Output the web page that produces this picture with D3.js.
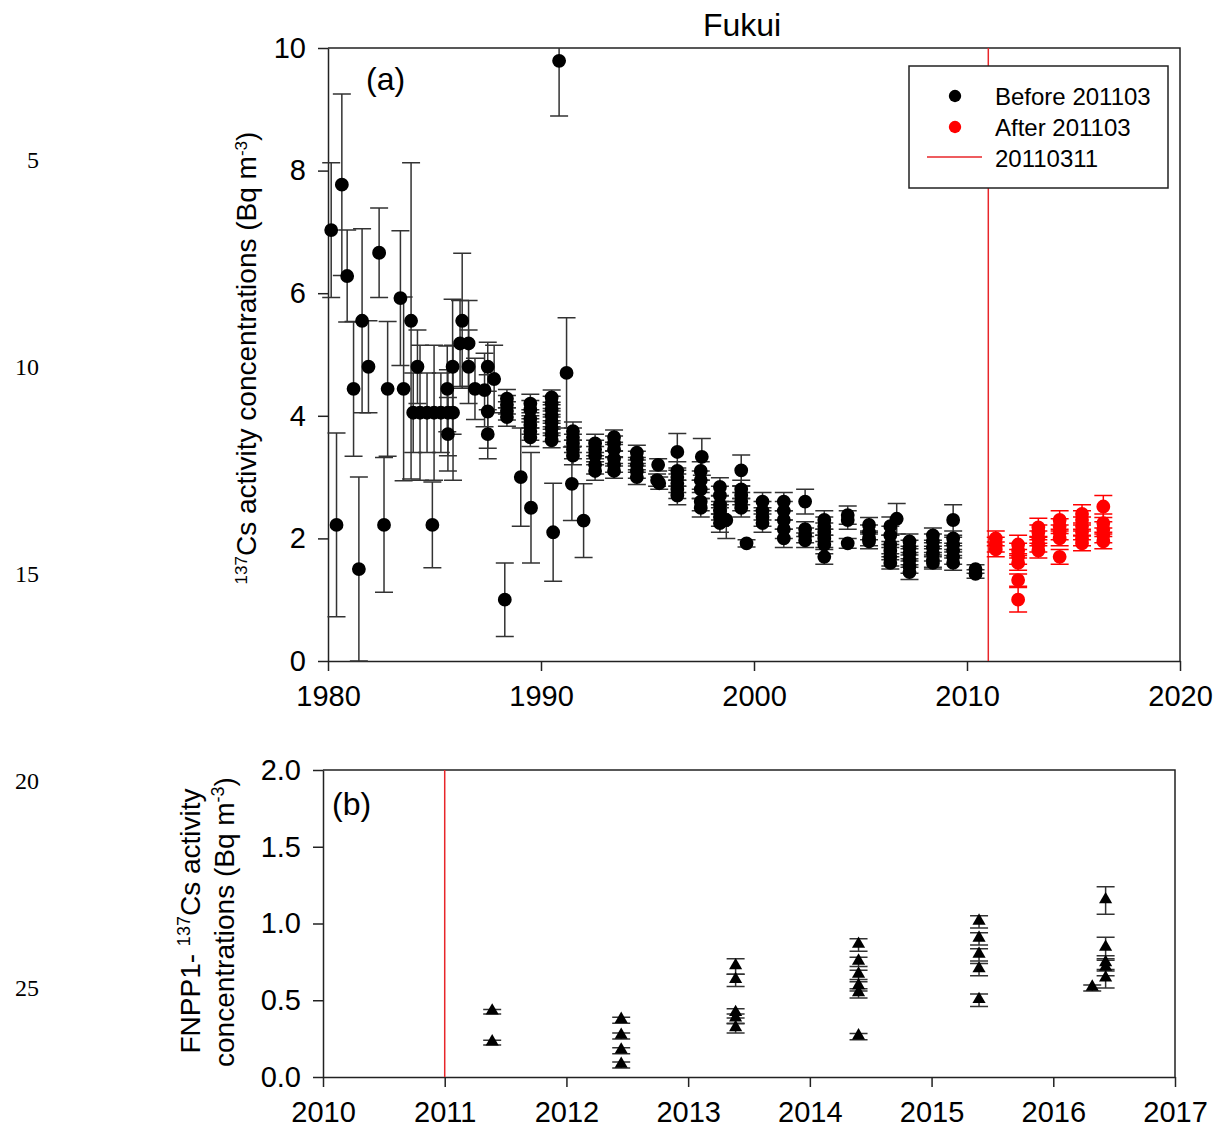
<!DOCTYPE html>
<html>
<head>
<meta charset="utf-8">
<script src="https://cdn.jsdelivr.net/npm/d3@7"></script>
<style>
  body { margin: 0; background: #fff; }
  text { font-family: Arial, "Liberation Sans", sans-serif; fill: #000; }
</style>
</head>
<body>
<svg id="chart" width="1214" height="1130"></svg>
<script>
// [year, value, error]  -- Fukui, before the accident
var before = [
    [1980.15, 7.03, 1.1], [1980.4, 2.22, 1.5], [1980.65, 7.77, 1.48], [1980.9, 6.28, 0.75],
    [1981.2, 4.44, 1.1], [1981.45, 1.5, 1.5], [1981.6, 5.55, 1.5], [1981.9, 4.8, 0.75],
    [1982.4, 6.66, 0.73], [1982.63, 2.22, 1.1], [1982.8, 4.44, 1.1],
    [1983.4, 5.92, 1.1], [1983.55, 4.44, 1.5], [1983.9, 5.55, 2.58],
    [1984.0, 4.05, 0.65], [1984.2, 4.8, 0.6], [1984.32, 4.05, 1.1], [1984.65, 4.05, 0.65],
    [1984.9, 2.22, 0.7], [1984.98, 4.05, 1.1], [1985.3, 4.05, 0.65], [1985.6, 4.44, 0.7],
    [1985.63, 3.7, 0.6], [1985.63, 4.05, 0.7], [1985.87, 4.05, 1.1], [1985.85, 4.8, 1.1],
    [1986.2, 5.18, 0.7], [1986.3, 5.55, 1.1], [1986.6, 5.18, 0.7], [1986.6, 4.8, 0.6],
    [1986.9, 4.44, 0.5], [1987.35, 4.42, 0.6], [1987.5, 4.8, 0.4], [1987.5, 4.07, 0.6],
    [1987.5, 3.7, 0.4], [1987.8, 4.6, 0.55],
    [1988.3, 1.0, 0.6], [1988.4, 4.28, 0.15], [1988.4, 4.18, 0.15], [1988.4, 4.08, 0.15], [1988.4, 3.98, 0.15],
    [1989.05, 3.0, 0.8], [1989.5, 4.2, 0.15], [1989.5, 4.1, 0.15], [1989.5, 3.95, 0.15],
    [1989.5, 3.85, 0.15], [1989.5, 3.75, 0.15], [1989.5, 3.65, 0.15], [1989.53, 2.5, 0.9],
    [1990.5, 4.3, 0.12], [1990.5, 4.2, 0.12], [1990.5, 4.1, 0.12], [1990.5, 4.0, 0.12],
    [1990.5, 3.9, 0.12], [1990.5, 3.8, 0.12], [1990.5, 3.7, 0.12], [1990.5, 3.6, 0.12],
    [1990.57, 2.1, 0.8], [1990.85, 9.79, 0.9], [1991.2, 4.7, 0.9],
    [1991.5, 3.75, 0.15], [1991.5, 3.65, 0.15], [1991.5, 3.55, 0.15], [1991.5, 3.45, 0.15],
    [1991.5, 3.35, 0.15], [1991.45, 2.89, 0.6], [1992.0, 2.29, 0.6],
    [1992.54, 3.55, 0.15], [1992.54, 3.45, 0.15], [1992.54, 3.35, 0.15], [1992.54, 3.2, 0.15], [1992.54, 3.1, 0.15],
    [1993.43, 3.65, 0.12], [1993.43, 3.55, 0.12], [1993.43, 3.45, 0.12], [1993.43, 3.3, 0.12],
    [1993.43, 3.2, 0.12], [1993.43, 3.1, 0.12],
    [1994.5, 3.4, 0.12], [1994.5, 3.3, 0.12], [1994.5, 3.2, 0.12], [1994.5, 3.1, 0.12], [1994.5, 3.0, 0.12],
    [1995.5, 3.2, 0.1], [1995.45, 2.95, 0.1], [1995.55, 2.9, 0.1],
    [1996.4, 3.41, 0.3], [1996.4, 3.1, 0.15], [1996.4, 3.0, 0.15], [1996.4, 2.9, 0.15],
    [1996.4, 2.8, 0.15], [1996.4, 2.7, 0.15],
    [1997.55, 3.33, 0.3], [1997.5, 3.1, 0.15], [1997.5, 2.95, 0.15], [1997.5, 2.8, 0.15],
    [1997.5, 2.6, 0.15], [1997.5, 2.5, 0.15],
    [1998.4, 2.84, 0.15], [1998.4, 2.7, 0.15], [1998.4, 2.55, 0.15], [1998.4, 2.45, 0.15],
    [1998.4, 2.35, 0.15], [1998.4, 2.25, 0.15], [1998.7, 2.3, 0.3],
    [1999.4, 3.11, 0.25], [1999.4, 2.8, 0.15], [1999.4, 2.7, 0.15], [1999.4, 2.6, 0.15],
    [1999.4, 2.5, 0.15], [1999.65, 1.92, 0.06],
    [2000.4, 2.6, 0.15], [2000.4, 2.45, 0.15], [2000.4, 2.35, 0.15], [2000.4, 2.25, 0.15],
    [2001.4, 2.6, 0.15], [2001.4, 2.45, 0.15], [2001.4, 2.3, 0.15], [2001.4, 2.15, 0.15], [2001.4, 2.0, 0.15],
    [2002.4, 2.6, 0.2], [2002.4, 2.15, 0.12], [2002.4, 2.05, 0.12], [2002.4, 1.97, 0.12],
    [2003.3, 2.3, 0.15], [2003.3, 2.2, 0.15], [2003.3, 2.1, 0.15], [2003.3, 2.0, 0.15],
    [2003.3, 1.9, 0.15], [2003.3, 1.7, 0.12],
    [2004.4, 2.38, 0.15], [2004.4, 2.3, 0.15], [2004.4, 1.92, 0.08],
    [2005.4, 2.22, 0.12], [2005.4, 2.1, 0.12], [2005.4, 2.0, 0.12], [2005.4, 1.95, 0.12],
    [2006.4, 2.2, 0.15], [2006.4, 2.05, 0.15], [2006.4, 1.9, 0.15], [2006.4, 1.8, 0.15],
    [2006.4, 1.7, 0.15], [2006.4, 1.6, 0.1], [2006.7, 2.32, 0.25],
    [2007.3, 1.95, 0.12], [2007.3, 1.85, 0.12], [2007.3, 1.75, 0.12], [2007.3, 1.65, 0.12],
    [2007.3, 1.55, 0.12], [2007.3, 1.45, 0.12],
    [2008.4, 2.05, 0.12], [2008.4, 1.95, 0.12], [2008.4, 1.85, 0.12], [2008.4, 1.75, 0.12],
    [2008.4, 1.65, 0.12], [2008.4, 1.6, 0.1],
    [2009.35, 2.3, 0.25], [2009.35, 2.0, 0.12], [2009.35, 1.9, 0.12], [2009.35, 1.8, 0.12],
    [2009.35, 1.7, 0.12], [2009.35, 1.6, 0.12],
    [2010.4, 1.5, 0.07], [2010.4, 1.42, 0.07]
];

// [year, value, error]  -- Fukui, after the accident
var after = [
    [2011.35, 2.0, 0.12], [2011.35, 1.9, 0.12], [2011.35, 1.82, 0.12],
    [2012.4, 1.9, 0.15], [2012.4, 1.8, 0.12], [2012.4, 1.7, 0.12], [2012.4, 1.6, 0.12],
    [2012.4, 1.32, 0.1], [2012.4, 1.0, 0.2],
    [2013.35, 2.18, 0.15], [2013.35, 2.1, 0.12], [2013.35, 2.0, 0.12], [2013.35, 1.9, 0.12], [2013.35, 1.8, 0.12],
    [2014.35, 2.3, 0.15], [2014.35, 2.2, 0.12], [2014.35, 2.1, 0.12], [2014.35, 2.0, 0.12], [2014.35, 1.7, 0.12],
    [2015.4, 2.4, 0.15], [2015.4, 2.3, 0.15], [2015.4, 2.2, 0.15], [2015.4, 2.1, 0.12],
    [2015.4, 2.0, 0.12], [2015.4, 1.92, 0.12],
    [2016.4, 2.52, 0.18], [2016.4, 2.25, 0.15], [2016.4, 2.15, 0.12], [2016.4, 2.05, 0.12], [2016.4, 1.95, 0.12]
];

// [year, value, error]  -- FNPP1-derived 137Cs
var fnpp = [
    [2011.39, 0.425, 0.015], [2011.39, 0.224, 0.015],
    [2012.45, 0.37, 0.02], [2012.45, 0.267, 0.02], [2012.45, 0.171, 0.02], [2012.45, 0.078, 0.02],
    [2013.39, 0.72, 0.05], [2013.39, 0.63, 0.04], [2013.39, 0.415, 0.03], [2013.39, 0.38, 0.03], [2013.39, 0.317, 0.03],
    [2014.4, 0.86, 0.04], [2014.4, 0.75, 0.03], [2014.4, 0.665, 0.03], [2014.4, 0.59, 0.03],
    [2014.4, 0.545, 0.03], [2014.4, 0.263, 0.02],
    [2015.39, 1.01, 0.04], [2015.39, 0.9, 0.04], [2015.39, 0.795, 0.04], [2015.39, 0.7, 0.04], [2015.39, 0.5, 0.04],
    [2016.32, 0.58, 0.02],
    [2016.43, 1.15, 0.09], [2016.43, 0.84, 0.07], [2016.43, 0.74, 0.05], [2016.43, 0.71, 0.05], [2016.43, 0.64, 0.06]
];

var accidentYear = 2011;
var yearTicksA = [1980, 1990, 2000, 2010, 2020];
var valueTicksA = [0, 2, 4, 6, 8, 10];
var yearTicksB = [2010, 2011, 2012, 2013, 2014, 2015, 2016, 2017];
var valueTicksB = [0, 0.5, 1.0, 1.5, 2.0];
var legendLabels = ["Before 201103", "After 201103", "20110311"];
var lineNumbers = [5, 10, 15, 20, 25];

var svg = d3.select("#chart");
svg.append("rect").attr("width", 1214).attr("height", 1130).attr("fill", "#fff");

var axisColor = "#222";

// manuscript line numbers on the left
svg.selectAll(".lineno")
    .data(lineNumbers)
    .enter()
    .append("text")
    .attr("x", 39)
    .attr("y", function(d, i) { return 168 + i * 207; })
    .attr("text-anchor", "end")
    .style("font-family", "'Times New Roman', 'Liberation Serif', serif")
    .style("font-size", "24px")
    .text(function(d) { return d; });

function styleAxis(g) {
    g.select(".domain").attr("stroke", axisColor).attr("stroke-width", 1.5);
    g.selectAll(".tick line").attr("stroke", axisColor).attr("stroke-width", 1.5);
    g.selectAll(".tick text").style("font-size", "29px").attr("fill", "#000");
}

function drawErrorBars(g, data, x, y, color, cap) {
    var bars = g.append("g").attr("stroke", color).attr("stroke-width", 1.5);
    bars.selectAll(".eb")
        .data(data)
        .enter()
        .append("path")
        .attr("fill", "none")
        .attr("d", function(d) {
            var cx = x(d[0]), t = y(d[1] + d[2]), b = y(Math.max(d[1] - d[2], y.domain()[0]));
            var p = "M" + cx + "," + t + "V" + b;
            p += "M" + (cx - cap) + "," + t + "H" + (cx + cap);
            if (d[1] - d[2] >= y.domain()[0]) p += "M" + (cx - cap) + "," + b + "H" + (cx + cap);
            return p;
        });
    return bars;
}

/* ============= Panel (a) ============= */
var a = { left: 328, right: 1180, top: 48, bottom: 661 };
var xA = d3.scaleLinear().domain([1980, 2020]).range([a.left, a.right]);
var yA = d3.scaleLinear().domain([0, 10]).range([a.bottom, a.top]);

svg.append("clipPath").attr("id", "clipA")
    .append("rect").attr("x", 300).attr("y", a.top).attr("width", 900).attr("height", a.bottom - a.top + 2);

var gA = svg.append("g");

gA.append("text")
    .attr("x", 742).attr("y", 36)
    .attr("text-anchor", "middle")
    .style("font-size", "32px")
    .text("Fukui");

// frame
gA.append("path")
    .attr("d", "M" + a.left + "," + a.top + "H" + a.right + "V" + a.bottom)
    .attr("fill", "none").attr("stroke", axisColor).attr("stroke-width", 1.5);

gA.append("g")
    .attr("transform", "translate(0," + a.bottom + ")")
    .call(d3.axisBottom(xA).tickValues(yearTicksA).tickSize(10).tickSizeOuter(0).tickPadding(14).tickFormat(d3.format("d")))
    .call(styleAxis);

gA.append("g")
    .attr("transform", "translate(" + a.left + ",0)")
    .call(d3.axisLeft(yA).tickValues(valueTicksA).tickSize(10).tickSizeOuter(0).tickPadding(12).tickFormat(d3.format("d")))
    .call(styleAxis);

var labelA = gA.append("text")
    .attr("transform", "translate(256,358) rotate(-90)")
    .attr("text-anchor", "middle")
    .style("font-size", "28px");
labelA.append("tspan").attr("baseline-shift", "super").style("font-size", "17px").text("137");
labelA.append("tspan").text("Cs activity concentrations (Bq m");
labelA.append("tspan").attr("baseline-shift", "super").style("font-size", "17px").text("-3");
labelA.append("tspan").text(")");

gA.append("text").attr("x", 366).attr("y", 90).style("font-size", "32px").text("(a)");

// accident line
gA.append("line")
    .attr("x1", xA(accidentYear)).attr("x2", xA(accidentYear))
    .attr("y1", a.top).attr("y2", a.bottom)
    .attr("stroke", "#e8262a").attr("stroke-width", 1.5);

drawErrorBars(gA, before, xA, yA, "#333", 9).attr("clip-path", "url(#clipA)");
drawErrorBars(gA, after, xA, yA, "#ff0000", 9).attr("clip-path", "url(#clipA)");

var circle = d3.symbol().type(d3.symbolCircle).size(150);
gA.selectAll(".pb")
    .data(before)
    .enter()
    .append("path")
    .attr("transform", function(d) { return "translate(" + xA(d[0]) + "," + yA(d[1]) + ")"; })
    .attr("d", circle)
    .attr("fill", "#000");

gA.selectAll(".pa")
    .data(after)
    .enter()
    .append("path")
    .attr("transform", function(d) { return "translate(" + xA(d[0]) + "," + yA(d[1]) + ")"; })
    .attr("d", circle)
    .attr("fill", "#ff0000");

// legend
var lg = gA.append("g");
lg.append("rect")
    .attr("x", 909).attr("y", 66).attr("width", 259).attr("height", 122)
    .attr("fill", "#fff").attr("stroke", axisColor).attr("stroke-width", 1.5);
lg.append("path").attr("transform", "translate(955,96)").attr("d", d3.symbol().type(d3.symbolCircle).size(120)).attr("fill", "#000");
lg.append("path").attr("transform", "translate(955,127)").attr("d", d3.symbol().type(d3.symbolCircle).size(120)).attr("fill", "#ff0000");
lg.append("line").attr("x1", 927).attr("x2", 982).attr("y1", 157).attr("y2", 157).attr("stroke", "#e8262a").attr("stroke-width", 1.5);
lg.selectAll(".lt")
    .data(legendLabels)
    .enter()
    .append("text")
    .attr("x", 995)
    .attr("y", function(d, i) { return 105 + i * 31; })
    .style("font-size", "24px")
    .text(function(d) { return d; });

/* ============= Panel (b) ============= */
var b = { left: 323, right: 1175, top: 770, bottom: 1077 };
var xB = d3.scaleLinear().domain([2010, 2017]).range([b.left, b.right]);
var yB = d3.scaleLinear().domain([0, 2]).range([b.bottom, b.top]);

var gB = svg.append("g");

gB.append("path")
    .attr("d", "M" + b.left + "," + b.top + "H" + b.right + "V" + b.bottom)
    .attr("fill", "none").attr("stroke", axisColor).attr("stroke-width", 1.5);

gB.append("g")
    .attr("transform", "translate(0," + b.bottom + ")")
    .call(d3.axisBottom(xB).tickValues(yearTicksB).tickSize(10).tickSizeOuter(0).tickPadding(14).tickFormat(d3.format("d")))
    .call(styleAxis);

gB.append("g")
    .attr("transform", "translate(" + b.left + ",0)")
    .call(d3.axisLeft(yB).tickValues(valueTicksB).tickSize(10).tickSizeOuter(0).tickPadding(12).tickFormat(d3.format(".1f")))
    .call(styleAxis);

var labelB1 = gB.append("text")
    .attr("transform", "translate(200,921) rotate(-90)")
    .attr("text-anchor", "middle")
    .style("font-size", "28px");
labelB1.append("tspan").text("FNPP1- ");
labelB1.append("tspan").attr("baseline-shift", "super").style("font-size", "18px").text("137");
labelB1.append("tspan").text("Cs activity");

var labelB2 = gB.append("text")
    .attr("transform", "translate(234,922) rotate(-90)")
    .attr("text-anchor", "middle")
    .style("font-size", "28px");
labelB2.append("tspan").text("concentrations (Bq m");
labelB2.append("tspan").attr("baseline-shift", "super").style("font-size", "18px").text("-3");
labelB2.append("tspan").text(")");

gB.append("text").attr("x", 332).attr("y", 815).style("font-size", "32px").text("(b)");

gB.append("line")
    .attr("x1", xB(accidentYear)).attr("x2", xB(accidentYear))
    .attr("y1", b.top).attr("y2", b.bottom)
    .attr("stroke", "#e8262a").attr("stroke-width", 1.5);

drawErrorBars(gB, fnpp, xB, yB, "#333", 9);

var tri = d3.symbol().type(d3.symbolTriangle).size(75);
gB.selectAll(".pf")
    .data(fnpp)
    .enter()
    .append("path")
    .attr("transform", function(d) { return "translate(" + xB(d[0]) + "," + (yB(d[1]) - 1) + ")"; })
    .attr("d", tri)
    .attr("fill", "#000");
</script>
</body>
</html>
